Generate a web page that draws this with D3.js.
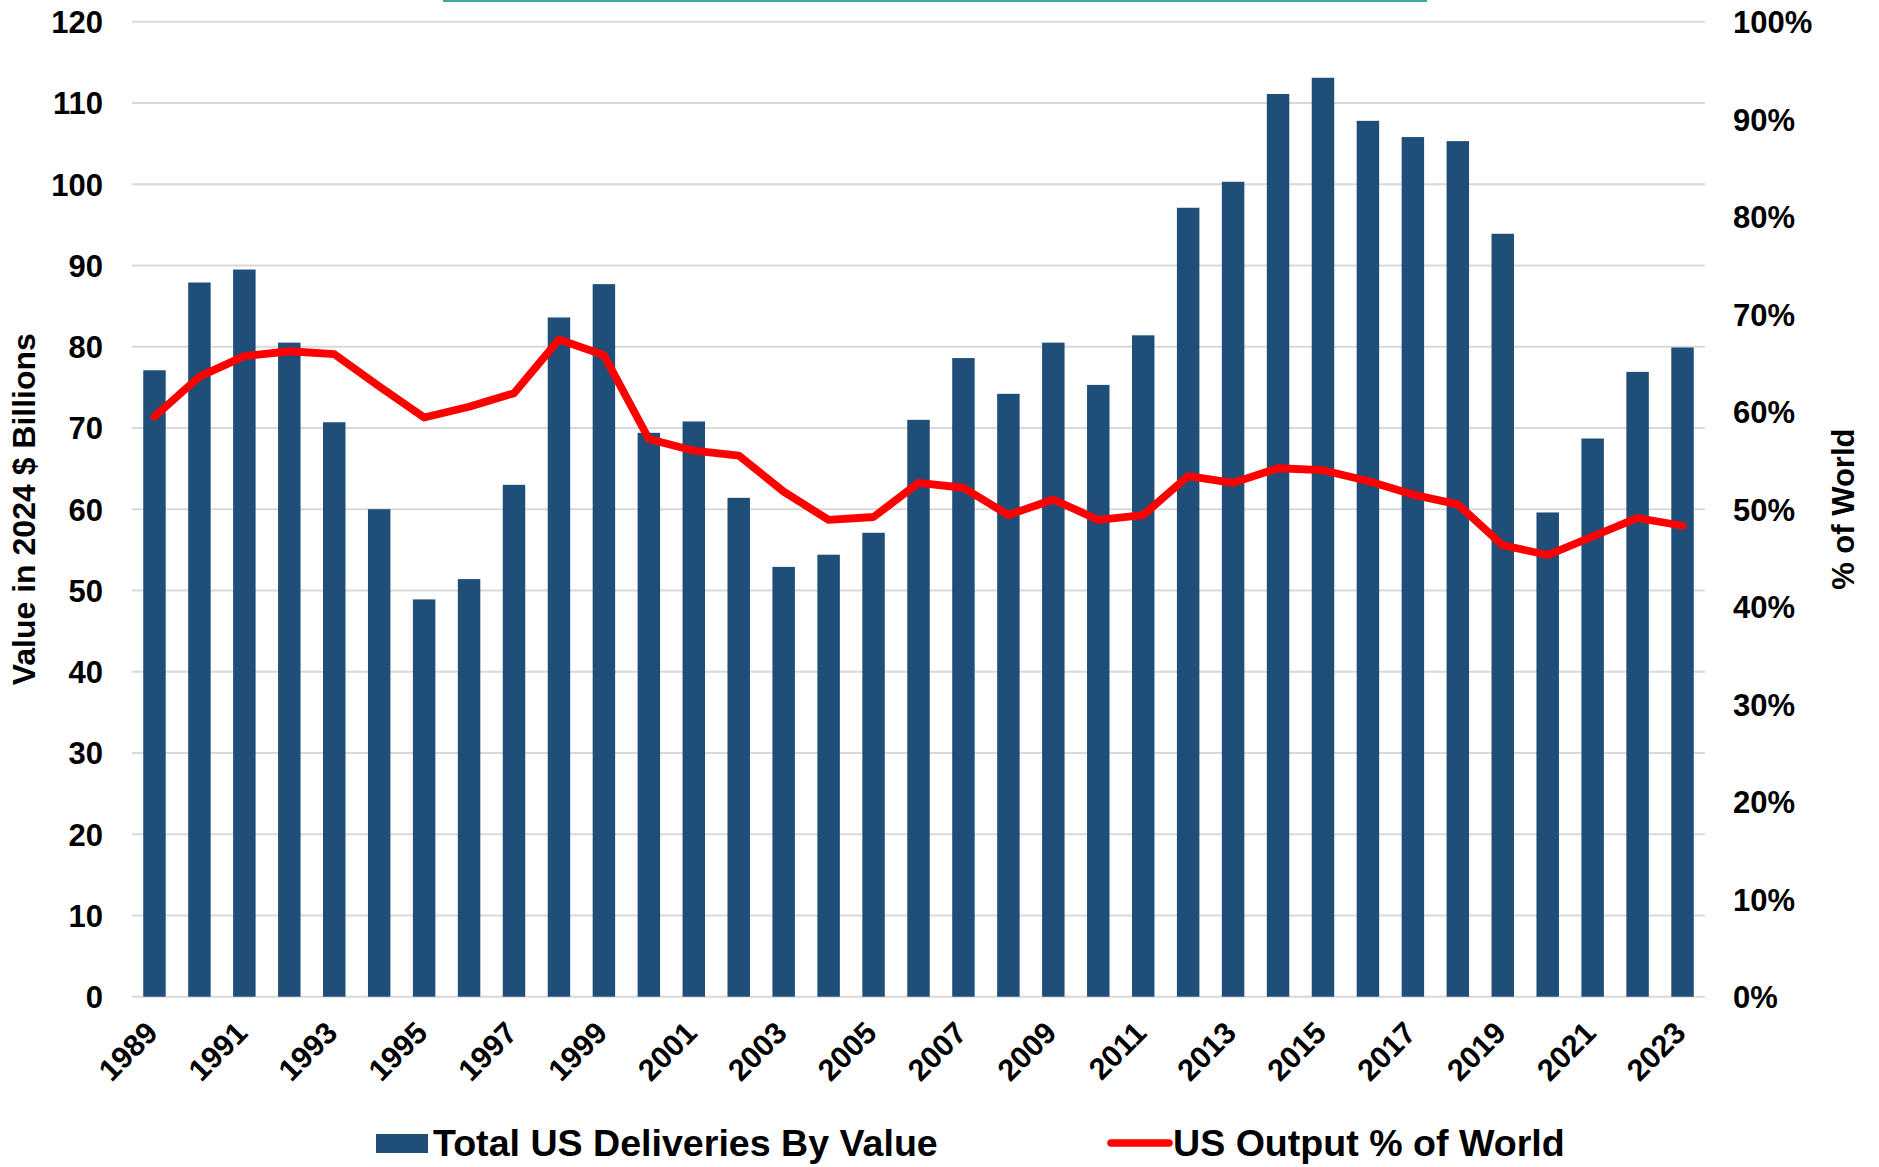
<!DOCTYPE html>
<html>
<head>
<meta charset="utf-8">
<script src="https://cdn.jsdelivr.net/npm/d3@7"></script>
<style>
  html, body { margin: 0; padding: 0; background: #ffffff; }
  svg { display: block; }
  text { font-family: "Liberation Sans", Arial, Helvetica, sans-serif; font-weight: bold; fill: #000; }
</style>
</head>
<body>
<svg id="chart" width="1879" height="1167"></svg>
<script>
// Years on the category axis
const years = [1989, 1990, 1991, 1992, 1993, 1994, 1995, 1996, 1997, 1998,
               1999, 2000, 2001, 2002, 2003, 2004, 2005, 2006, 2007, 2008,
               2009, 2010, 2011, 2012, 2013, 2014, 2015, 2016, 2017, 2018,
               2019, 2020, 2021, 2022, 2023];

// Total US deliveries by value, 2024 $ billions
const deliveries = [77.1, 87.9, 89.5, 80.5, 70.7, 60.0, 48.9, 51.4, 63.0, 83.6,
                    87.7, 69.4, 70.8, 61.4, 52.9, 54.4, 57.1, 71.0, 78.6, 74.2,
                    80.5, 75.3, 81.4, 97.1, 100.3, 111.1, 113.1, 107.8, 105.8, 105.3,
                    93.9, 59.6, 68.7, 76.9, 79.9];

// US output as a share of world output, percent
const worldShare = [59.5, 63.6, 65.7, 66.2, 65.9, 62.6, 59.4, 60.5, 61.9, 67.4,
                    65.8, 57.2, 56.0, 55.5, 51.8, 48.9, 49.2, 52.7, 52.2, 49.4,
                    51.0, 48.9, 49.4, 53.4, 52.7, 54.2, 54.0, 52.9, 51.5, 50.5,
                    46.3, 45.3, 47.2, 49.1, 48.3];

// Axis ticks
const valueTicks = [0, 10, 20, 30, 40, 50, 60, 70, 80, 90, 100, 110, 120];
const shareTicks = [0, 10, 20, 30, 40, 50, 60, 70, 80, 90, 100];
const yearTicks = [1989, 1991, 1993, 1995, 1997, 1999, 2001, 2003, 2005,
                   2007, 2009, 2011, 2013, 2015, 2017, 2019, 2021, 2023];

// Series names
const barName = "Total US Deliveries By Value";
const lineName = "US Output % of World";
const leftTitle = "Value in 2024 $ Billions";
const rightTitle = "% of World";

const BAR_COLOR = "#1f4e79";
const LINE_COLOR = "#ff0000";
const GRID_COLOR = "#d9d9d9";

const plot = { left: 132, right: 1705, top: 21.7, bottom: 996.7 };

const svg = d3.select("#chart");

// Thin accent rule along the top edge
svg.append("rect")
  .attr("x", 443).attr("y", 0)
  .attr("width", 984).attr("height", 2)
  .attr("fill", "#3fa99a");

const x = d3.scaleBand()
  .domain(years)
  .range([plot.left, plot.right])
  .paddingInner(0.5)
  .paddingOuter(0.25);

const yValue = d3.scaleLinear().domain([0, 120]).range([plot.bottom, plot.top]);
const yShare = d3.scaleLinear().domain([0, 100]).range([plot.bottom, plot.top]);

// Horizontal gridlines on the value axis
svg.append("g")
  .selectAll("line")
  .data(valueTicks)
  .join("line")
  .attr("x1", plot.left).attr("x2", plot.right)
  .attr("y1", d => yValue(d)).attr("y2", d => yValue(d))
  .attr("stroke", GRID_COLOR)
  .attr("stroke-width", 2);

// Bars
svg.append("g")
  .selectAll("rect")
  .data(years.map((yr, i) => ({ yr, v: deliveries[i] })))
  .join("rect")
  .attr("x", d => x(d.yr))
  .attr("width", x.bandwidth())
  .attr("y", d => yValue(d.v))
  .attr("height", d => yValue(0) - yValue(d.v))
  .attr("fill", BAR_COLOR);

// Share line
const line = d3.line()
  .x(d => x(d.yr) + x.bandwidth() / 2)
  .y(d => yShare(d.p));

svg.append("path")
  .datum(years.map((yr, i) => ({ yr, p: worldShare[i] })))
  .attr("d", line)
  .attr("fill", "none")
  .attr("stroke", LINE_COLOR)
  .attr("stroke-width", 7.8)
  .attr("stroke-linejoin", "round")
  .attr("stroke-linecap", "round");

// Left value axis
const leftAxis = svg.append("g")
  .attr("transform", `translate(${plot.left - 29},0)`)
  .call(d3.axisLeft(yValue).tickValues(valueTicks).tickSize(0).tickPadding(0));
leftAxis.select(".domain").remove();
leftAxis.selectAll("text")
  .attr("font-size", 31)
  .attr("font-family", null)
  .attr("dy", "0.35em");

// Right share axis
const rightAxis = svg.append("g")
  .attr("transform", `translate(${plot.right + 28},0)`)
  .call(d3.axisRight(yShare).tickValues(shareTicks).tickSize(0).tickPadding(0)
    .tickFormat(d => d + "%"));
rightAxis.select(".domain").remove();
rightAxis.selectAll("text")
  .attr("font-size", 31)
  .attr("font-family", null)
  .attr("dy", "0.35em");

// Category axis with slanted year labels
const bottomAxis = svg.append("g")
  .attr("transform", `translate(0,${plot.bottom})`)
  .call(d3.axisBottom(x).tickValues(yearTicks).tickSize(0).tickPadding(0));
bottomAxis.select(".domain").remove();
bottomAxis.selectAll("text")
  .attr("font-size", 30.5)
  .attr("font-family", null)
  .attr("x", 0).attr("y", 0).attr("dy", 0)
  .attr("text-anchor", "end")
  .attr("transform", "translate(5,38) rotate(-45)");

svg.selectAll(".tick text").style("fill", "#000");

// Axis titles
svg.append("text")
  .attr("transform", `translate(35,${(plot.top + plot.bottom) / 2}) rotate(-90)`)
  .attr("text-anchor", "middle")
  .attr("font-size", 32)
  .text(leftTitle);

svg.append("text")
  .attr("transform", `translate(1854,${(plot.top + plot.bottom) / 2}) rotate(-90)`)
  .attr("text-anchor", "middle")
  .attr("font-size", 31)
  .text(rightTitle);

// Legend
const legend = svg.append("g");
legend.append("rect")
  .attr("x", 376).attr("y", 1134)
  .attr("width", 52).attr("height", 19)
  .attr("fill", BAR_COLOR);
legend.append("text")
  .attr("x", 433).attr("y", 1156)
  .attr("font-size", 37.6)
  .text(barName);

legend.append("line")
  .attr("x1", 1111).attr("x2", 1169)
  .attr("y1", 1143).attr("y2", 1143)
  .attr("stroke", LINE_COLOR)
  .attr("stroke-width", 7.5)
  .attr("stroke-linecap", "round");
legend.append("text")
  .attr("x", 1173).attr("y", 1156)
  .attr("font-size", 37.6)
  .text(lineName);
</script>
</body>
</html>
